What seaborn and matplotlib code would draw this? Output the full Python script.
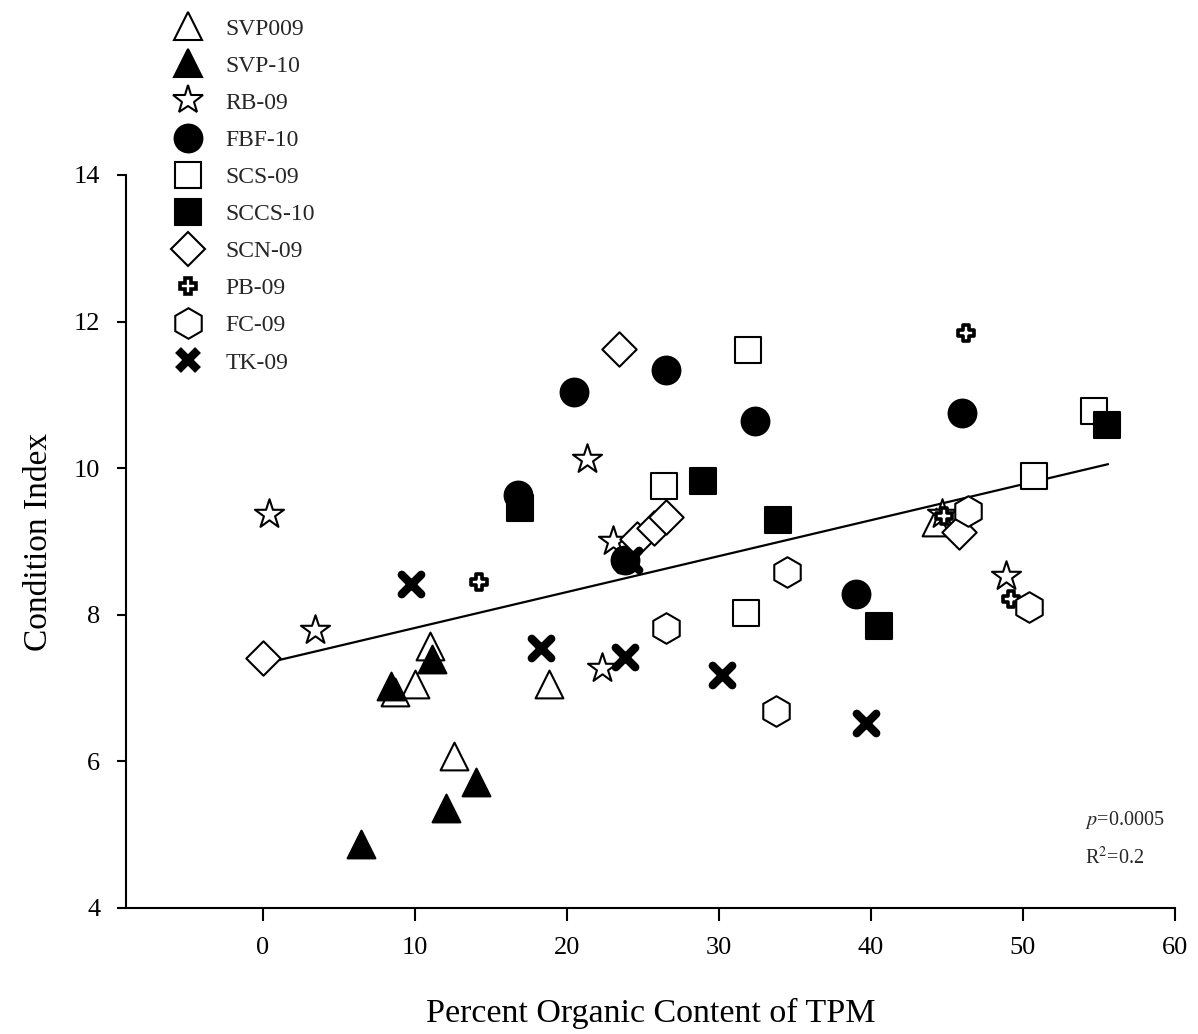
import matplotlib
matplotlib.use("Agg")
import matplotlib.pyplot as plt
import seaborn as sns
import numpy as np
import pandas as pd
from matplotlib.lines import Line2D

sns.set_style("white")
plt.rcParams["font.family"] = ["Liberation Serif", "DejaVu Serif"]
plt.rcParams["mathtext.fontset"] = "stix"

# ---------------- data ----------------
sites = ["SVP009", "SVP-10", "RB-09", "FBF-10", "SCS-09",
         "SCCS-10", "SCN-09", "PB-09", "FC-09", "TK-09"]

svp009_x = [11.0, 10.0, 8.7, 18.85, 12.6, 44.3]
svp009_y = [7.57, 7.05, 6.94, 7.06, 6.07, 9.27]

svp10_x = [8.4, 11.1, 14.04, 12.04, 6.45]
svp10_y = [7.03, 7.40, 5.72, 5.36, 4.87]

rb09_x = [0.41, 3.42, 21.3, 23.05, 22.3, 48.9, 44.7]
rb09_y = [9.38, 7.79, 10.13, 9.00, 7.27, 8.53, 9.38]

fbf10_x = [20.46, 26.5, 32.4, 46.0, 16.8, 23.8, 39.0]
fbf10_y = [11.04, 11.34, 10.65, 10.75, 9.63, 8.75, 8.28]

scs09_x = [31.9, 26.4, 31.8, 54.7, 50.75]
scs09_y = [11.61, 9.76, 8.03, 10.78, 9.89]

sccs10_x = [16.9, 28.97, 33.86, 40.5, 55.55]
sccs10_y = [9.46, 9.82, 9.29, 7.84, 10.59]

scn09_x = [0.0, 23.45, 24.6, 25.7, 26.55, 45.8]
scn09_y = [7.41, 11.63, 9.04, 9.18, 9.34, 9.13]

pb09_x = [14.25, 46.25, 49.2, 44.8]
pb09_y = [8.45, 11.84, 8.22, 9.35]

fc09_x = [26.5, 34.5, 33.75, 46.4, 50.4]
fc09_y = [7.82, 8.59, 6.69, 9.41, 8.10]

tk09_x = [9.74, 18.3, 23.84, 30.2, 39.65, 24.1]
tk09_y = [8.42, 7.54, 7.43, 7.18, 6.53, 8.75]

site_x = [svp009_x, svp10_x, rb09_x, fbf10_x, scs09_x,
          sccs10_x, scn09_x, pb09_x, fc09_x, tk09_x]
site_y = [svp009_y, svp10_y, rb09_y, fbf10_y, scs09_y,
          sccs10_y, scn09_y, pb09_y, fc09_y, tk09_y]

# regression line (as printed on the figure)
fit_intercept = 7.33
fit_slope = 0.049
fit_x_range = [0.45, 55.6]

p_text = "$p$=0.0005"
r2_text = "R$^2$=0.2"

xticks = [0, 10, 20, 30, 40, 50, 60]
yticks = [4, 6, 8, 10, 12, 14]

# ---------------- styles ----------------
# marker, size (pt), facecolor, edge width
styles = {
    "SVP009": ("^", 20, "white", 1.5),
    "SVP-10": ("^", 20, "black", 1.5),
    "RB-09": ("*", 22, "white", 1.5),
    "FBF-10": ("o", 20, "black", 1.5),
    "SCS-09": ("s", 18.5, "white", 1.5),
    "SCCS-10": ("s", 18.5, "black", 1.5),
    "SCN-09": ("D", 17.5, "white", 1.5),
    "PB-09": ("P", 12, "white", 2.6),
    "FC-09": ("h", 22, "white", 1.5),
    "TK-09": ("x", 14, "black", 6),
}

fig = plt.figure(figsize=(11.98, 10.34), dpi=100)
ax = fig.add_axes([0.1052, 0.1219, 0.8756, 0.7089])

# regression line
line_x = np.array(fit_x_range)
line_df = pd.DataFrame({"x": line_x, "y": fit_intercept + fit_slope * line_x})
sns.lineplot(data=line_df, x="x", y="y", color="black", linewidth=1.6, ax=ax, zorder=2)

handles = []
for name, xs, ys in zip(sites, site_x, site_y):
    m, ms, fc, lw = styles[name]
    df = pd.DataFrame({"x": xs, "y": ys})
    if m == "x":
        sns.scatterplot(data=df, x="x", y="y", marker="x", s=ms ** 2,
                        color="black", linewidth=lw, ax=ax, zorder=3, legend=False)
        ax.collections[-1].set_capstyle("round")
        h = Line2D([], [], ls="none", marker="x", ms=ms, mew=lw, color="black")
    else:
        sns.scatterplot(data=df, x="x", y="y", marker=m, s=ms ** 2,
                        color=fc, edgecolor="black", linewidth=lw,
                        ax=ax, zorder=3, legend=False)
        h = Line2D([], [], ls="none", marker=m, ms=ms, mfc=fc, mec="black", mew=lw)
    handles.append(h)

ax.set_xlim(-9, 60)
ax.set_ylim(4, 14)
ax.set_xticks(xticks)
ax.set_yticks(yticks)
for side in ["top", "right"]:
    ax.spines[side].set_visible(False)
for side in ["left", "bottom"]:
    ax.spines[side].set_linewidth(1.5)
    ax.spines[side].set_color("black")
ax.tick_params(axis="both", which="major", direction="out", width=1.5,
               labelsize=19, colors="black", bottom=True, left=True)
ax.tick_params(axis="x", length=9, pad=12)
ax.tick_params(axis="y", length=6.5, pad=12)

ax.set_xlabel("Percent Organic Content of TPM", fontsize=24.5, labelpad=28, color="black")
ax.set_ylabel("Condition Index", fontsize=24, labelpad=14, color="black")

ax.text(54.1, 5.13, p_text, fontsize=14.5, ha="left", va="baseline")
ax.text(54.1, 4.60, r2_text, fontsize=14.5, ha="left", va="baseline")

leg = fig.legend(handles, sites, loc="upper left", bbox_to_anchor=(0.1422, 0.9826),
                 frameon=False, fontsize=17, handlelength=1.5, handletextpad=0.82,
                 labelspacing=0.66, borderpad=0, borderaxespad=0)
for lh in leg.legend_handles:
    if lh.get_marker() == "x":
        lh.set_solid_capstyle("round")
        lh.set_dash_capstyle("round")

fig.savefig("out.png", dpi=100)
